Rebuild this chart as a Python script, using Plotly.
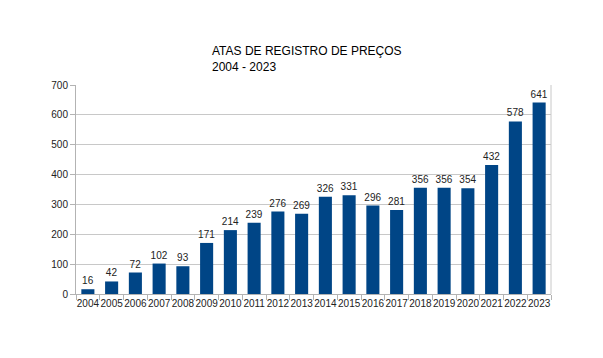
import plotly.graph_objects as go

years = [str(y) for y in range(2004, 2024)]
values = [16, 42, 72, 102, 93, 171, 214, 239, 276, 269, 326, 331, 296, 281, 356, 356, 354, 432, 578, 641]
title_lines = ["ATAS DE REGISTRO DE PREÇOS", "2004 - 2023"]

L, R, T, B = 68, 60, 77, 72
W, H = 603, 358
pw, ph = W - L - R, H - T - B

fig = go.Figure(go.Bar(
    x=years, y=values, marker_color="#004586", marker_line_width=0,
    text=values, textposition="outside", cliponaxis=False,
    textfont=dict(size=10, color="#222", family="Liberation Sans"),
))
fig.update_layout(
    width=W, height=H,
    margin=dict(l=L, r=R, t=T, b=B, autoexpand=False),
    paper_bgcolor="white", plot_bgcolor="white",
    bargap=0.45, showlegend=False,
    uniformtext=dict(minsize=10, mode="show"),
    font=dict(family="Liberation Sans", size=10, color="#222"),
    annotations=[dict(text="<br>".join(title_lines), x=(202 - L) / pw, y=1 + (T - 34) / ph,
                      xref="paper", yref="paper",
                      showarrow=False, align="left", xanchor="left", yanchor="top",
                      font=dict(size=12, color="#000"))],
)
fig.update_yaxes(range=[0, 700], dtick=100, showgrid=True, gridcolor="#c8c8c8", gridwidth=1,
                 showline=True, linecolor="#b3b3b3", ticks="outside", ticklen=5, tickcolor="#b3b3b3",
                 zeroline=False, tickfont=dict(size=10, color="#222"), automargin=False)
fig.update_xaxes(showline=True, linecolor="#b3b3b3", ticks="outside", ticklen=5, tickcolor="#b3b3b3",
                 tickson="boundaries", tickangle=0, automargin=False, tickfont=dict(size=10, color="#222"))
fig.add_shape(type="line", xref="paper", yref="paper", x0=1, x1=1, y0=0, y1=1,
              line=dict(color="#c8c8c8", width=1))
fig.write_html("out.html")
